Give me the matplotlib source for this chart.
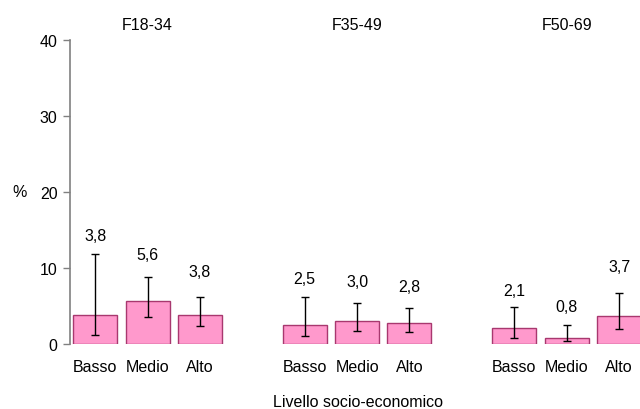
import numpy as np
import matplotlib
matplotlib.use('Agg')
import matplotlib.pyplot as plt
from matplotlib.transforms import blended_transform_factory

plt.rcParams['font.family'] = ['Liberation Sans', 'DejaVu Sans']

groups = ['F18-34', 'F35-49', 'F50-69']
levels = ['Basso', 'Medio', 'Alto']
values = [3.8, 5.6, 3.8, 2.5, 3.0, 2.8, 2.1, 0.8, 3.7]
ci_low = [1.2, 3.6, 2.4, 1.1, 1.75, 1.6, 0.8, 0.35, 2.0]
ci_high = [11.9, 8.8, 6.2, 6.2, 5.35, 4.7, 4.9, 2.5, 6.75]
value_labels = ['3,8', '5,6', '3,8', '2,5', '3,0', '2,8', '2,1', '0,8', '3,7']

values = np.array(values)
err = [values - np.array(ci_low), np.array(ci_high) - values]
pos = np.array([g * 4 + i for g in range(len(groups)) for i in range(len(levels))])

fig = plt.figure(figsize=(6.4, 4.1), dpi=100)
ax = fig.add_axes([70 / 640, 1 - 345 / 410, 570 / 640, 304 / 410])

ax.bar(pos, values, width=0.84, color='#ff99cc', edgecolor='#a8386f', linewidth=1.0)
ax.errorbar(pos, values, yerr=err, fmt='none', ecolor='black', elinewidth=1.0,
            capsize=3, capthick=1.0)

label_y = [14.3, 11.8, 9.5, 8.6, 8.2, 7.5, 7.1, 4.9, 10.2]
for x, y, t in zip(pos, label_y, value_labels):
    ax.text(x, y, t, ha='center', va='center', fontsize=11.5)

ax.set_xlim(-0.48, 10.4)
ax.set_ylim(0, 40)
ax.set_yticks([0, 10, 20, 30, 40])
ax.set_xticks(pos)
ax.set_xticklabels(levels * len(groups), fontsize=11.5)
ax.tick_params(axis='x', length=0, pad=11)
ax.tick_params(axis='y', direction='out', length=5, width=1, color='#808080',
               pad=4, labelsize=11.5)

for s in ['top', 'right', 'bottom']:
    ax.spines[s].set_visible(False)
ax.spines['left'].set_color('#808080')
ax.spines['left'].set_linewidth(1.2)

trans = blended_transform_factory(ax.transData, ax.transAxes)
for g, name in enumerate(groups):
    ax.text(g * 4 + 1, 1.0 + 16 / 304, name, transform=trans, ha='center',
            va='center', fontsize=11.5)

fig.text(20 / 640, 1 - 193 / 410, '%', ha='center', va='center', fontsize=11.5)
fig.text(358 / 640, 1 - 403 / 410, 'Livello socio-economico', ha='center',
         va='center', fontsize=11.5)

fig.savefig('out.png', dpi=100)
